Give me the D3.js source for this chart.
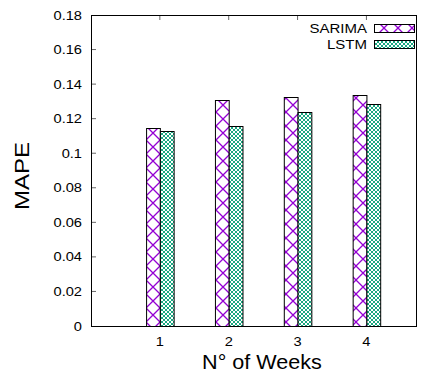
<!DOCTYPE html>
<html>
<head>
<meta charset="utf-8">
<script src="https://cdn.jsdelivr.net/npm/d3@7"></script>
<style>
  body { margin: 0; background: #fff; }
  text { font-family: "Liberation Sans", Arial, sans-serif; fill: #000; }
</style>
</head>
<body>
<div id="chart"></div>
<script>
// Data
const weeks = [1, 2, 3, 4];
const sarima = [0.1145, 0.1307, 0.1324, 0.1338];
const lstm = [0.1128, 0.1157, 0.1238, 0.1282];
const seriesNames = ["SARIMA", "LSTM"];
const yTicks = [0, 0.02, 0.04, 0.06, 0.08, 0.1, 0.12, 0.14, 0.16, 0.18];

const width = 425;
const height = 378;
const margin = { left: 91, right: 9, top: 15, bottom: 52 };

const svg = d3.select("#chart")
  .append("svg")
  .attr("width", width)
  .attr("height", height);

// Patterns for the two series
const defs = svg.append("defs");
const big = defs.append("pattern")
  .attr("id", "pat-sarima")
  .attr("patternUnits", "userSpaceOnUse")
  .attr("width", 14).attr("height", 14)
  .attr("x", 146).attr("y", 0);
big.append("rect").attr("width", 14).attr("height", 14).attr("fill", "#fff");
big.append("path")
  .attr("d", "M0,0L14,14M14,0L0,14M-1,13L1,15M13,-1L15,1")
  .attr("stroke", "#9400d3").attr("stroke-width", 1.3);

const small = defs.append("pattern")
  .attr("id", "pat-lstm")
  .attr("patternUnits", "userSpaceOnUse")
  .attr("width", 4).attr("height", 4);
small.append("rect").attr("width", 4).attr("height", 4).attr("fill", "#fff");
small.append("path")
  .attr("d", "M0,0L4,4M4,0L0,4M-1,3L1,5M3,-1L5,1")
  .attr("stroke", "#009e73").attr("stroke-width", 0.9);

const fills = ["url(#pat-sarima)", "url(#pat-lstm)"];

// Scales
const x = d3.scaleLinear()
  .domain([0, 4.72])
  .range([margin.left, width - margin.right]);
const y = d3.scaleLinear()
  .domain([0, 0.18])
  .range([height - margin.bottom, margin.top]);

const barW = 0.2; // in x units

// Text helper, stretched horizontally a bit like the original font
function label(parent, px, py, str, size, sx, anchor, rot) {
  return parent.append("text")
    .attr("transform", `translate(${px},${py}) rotate(${rot || 0}) scale(${sx},1)`)
    .attr("text-anchor", anchor)
    .style("font-size", size + "px")
    .text(str);
}

// Y axis ticks and labels
const yAxis = svg.append("g");
yTicks.forEach((t) => {
  if (t > 0 && t < 0.18) {
    yAxis.append("line")
      .attr("x1", margin.left).attr("x2", margin.left + 5)
      .attr("y1", y(t)).attr("y2", y(t))
      .attr("stroke", "#666").attr("stroke-width", 1);
  }
  label(yAxis, margin.left - 9, y(t) + 4.5, d3.format("")(+t.toFixed(2)), 12, 1.22, "end");
});

// X tick labels and top mirror ticks
weeks.forEach((w) => {
  label(svg, x(w), 346, w, 12, 1.22, "middle");
  svg.append("line")
    .attr("x1", x(w)).attr("x2", x(w))
    .attr("y1", margin.top).attr("y2", margin.top + 5)
    .attr("stroke", "#666");
});

// Bars
const groups = [sarima, lstm];
groups.forEach((vals, s) => {
  svg.append("g")
    .selectAll("rect")
    .data(vals)
    .join("rect")
    .attr("x", (d, i) => x(weeks[i] - barW + s * barW) + 0.5)
    .attr("width", x(barW) - x(0))
    .attr("y", (d) => Math.round(y(d)) + 0.5)
    .attr("height", (d) => y(0) - Math.round(y(d)))
    .attr("fill", fills[s])
    .attr("stroke", "#000")
    .attr("stroke-width", 1);
});

// Plot border
svg.append("rect")
  .attr("x", margin.left + 0.5).attr("y", margin.top + 0.5)
  .attr("width", width - margin.left - margin.right)
  .attr("height", height - margin.top - margin.bottom)
  .attr("fill", "none")
  .attr("stroke", "#000")
  .attr("stroke-width", 1);

// Legend
const legend = svg.append("g");
seriesNames.forEach((name, i) => {
  const ly = 24 + i * 16;
  label(legend, 367, ly + 8.5, name, 12, 1.25, "end");
  legend.append("rect")
    .attr("x", 374.5).attr("y", ly + 0.5)
    .attr("width", 40).attr("height", 8)
    .attr("fill", fills[i])
    .attr("stroke", "#000");
});

// Axis titles
label(svg, 262, 369, "N\u00b0 of Weeks", 20, 1.08, "middle");
label(svg, 29, 176, "MAPE", 20, 1.2, "middle", -90);
</script>
</body>
</html>
